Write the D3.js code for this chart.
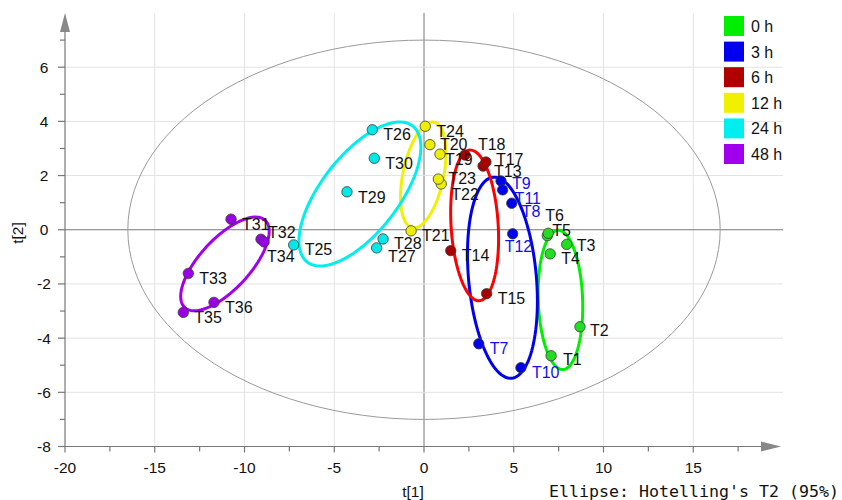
<!DOCTYPE html>
<html><head><meta charset="utf-8">
<script src="https://cdn.jsdelivr.net/npm/d3@7"></script>
<style>body{margin:0;background:#fff}svg{display:block}</style>
</head><body><svg id="c" width="842" height="500"></svg>
<script>
// ---- data ----
const groups = ["0 h","3 h","6 h","12 h","24 h","48 h"];
const sampleNames = ["T1","T2","T3","T4","T5","T6","T7","T8","T9","T10","T11","T12","T13","T14","T15","T17","T18","T19","T20","T21","T22","T23","T24","T25","T26","T27","T28","T29","T30","T31","T32","T33","T34","T35","T36"];
const sampleGroup = [0,0,0,0,0,0,1,1,1,1,1,1,2,2,2,2,2,3,3,3,3,3,3,4,4,4,4,4,4,5,5,5,5,5,5];
const t1 = [7.08,8.69,7.95,7.03,6.87,6.92,3.05,4.89,4.29,5.40,4.38,4.94,3.29,1.49,3.49,3.45,2.28,0.89,0.33,-0.72,0.96,0.80,0.07,-7.26,-2.88,-2.64,-2.28,-4.29,-2.77,-10.75,-9.08,-13.13,-8.91,-13.41,-11.70];
const t2 = [-4.65,-3.58,-0.54,-0.89,-0.22,-0.13,-4.21,0.98,1.80,-5.09,1.47,-0.15,2.35,-0.77,-2.36,2.50,2.76,2.79,3.14,-0.04,1.69,1.87,3.82,-0.56,3.69,-0.67,-0.34,1.40,2.64,0.39,-0.35,-1.61,-0.45,-3.05,-2.68];
// group confidence ellipses: centre and two semi-axis vectors (t1,t2 units)
const ellCx = [7.60,4.37,2.82,-0.04,-3.57,-11.09];
const ellCy = [-2.59,-1.77,0.16,2.02,1.32,-1.26];
const ellUx = [-0.135,-0.51,-0.256,0.61,2.94,2.24];
const ellUy = [2.57,3.71,2.78,1.95,2.51,1.61];
const ellVx = [-1.236,-1.88,-1.31,-1.11,-1.70,-1.03];
const ellVy = [-0.029,-0.113,-0.053,0.152,0.875,0.63];
// Hotelling T2 (95%) semi-axes
const hotellingA = 16.5, hotellingB = 7.0;
const xTicks = [-20,-15,-10,-5,0,5,10,15];
const yTicks = [-8,-6,-4,-2,0,2,4,6];
const xMinor = [-17.5,-12.5,-7.5,-2.5,2.5,7.5,12.5,17.5];
const yMinor = [-7,-5,-3,-1,1,3,5,7];

// ---- styles / layout ----
const pointColors = ["#22dd22","#0000f0","#a80000","#eeee00","#00e8e8","#9a00e6"];
const ellipseColors = ["#00ee00","#0000ee","#ff0000","#f0f000","#00eeee","#a000ee"];
const legendColors = ["#00ee00","#0000ee","#b00000","#f0f000","#00eeee","#a000ee"];
const labelNudge = {T1:[12,9.5],T2:[10,9.5],T3:[10,7],T5:[5,0],T6:[-3,-12],T8:[10,14],T9:[11,8],T11:[12,14],
  T12:[-8,18],T13:[11,11],T17:[10,2.5],T18:[13,-4.5],T19:[5,11],T20:[10,5.5],T22:[10,16.5],T23:[10,5],
  T27:[11.5,14.5],T29:[11,11],T32:[7,-1],T34:[3,20]};

const svg = d3.select("#c");
const x = d3.scaleLinear().domain([-20,20]).range([65,783]);
const y = d3.scaleLinear().domain([-8,8]).range([446.5,13]);
const font = "'Liberation Sans', Arial, Helvetica, sans-serif";

// grid
const g = svg.append("g");
g.selectAll(".vx").data(xTicks.slice(1)).join("line")
  .attr("x1",d=>x(d)).attr("x2",d=>x(d)).attr("y1",y(-8)).attr("y2",y(8))
  .attr("stroke",d=>d===0?"#777":"#e2e2e2").attr("stroke-width",1);
g.selectAll(".hy").data(yTicks.slice(1)).join("line")
  .attr("x1",x(-20)).attr("x2",x(20)).attr("y1",d=>y(d)).attr("y2",d=>y(d))
  .attr("stroke",d=>d===0?"#777":"#e2e2e2").attr("stroke-width",1);

// ellipse path builder
function ellPath(cx,cy,ux,uy,vx,vy){
  const pts = d3.range(0,361,3).map(a=>{const t=a*Math.PI/180;
    return [x(cx+Math.cos(t)*ux+Math.sin(t)*vx), y(cy+Math.cos(t)*uy+Math.sin(t)*vy)];});
  return d3.line()(pts)+"Z";
}
svg.append("path").attr("d",ellPath(0,0,hotellingA,0,0,hotellingB))
  .attr("fill","none").attr("stroke","#9a9a9a").attr("stroke-width",1);

svg.selectAll(".ge").data(groups).join("path")
  .attr("d",(d,i)=>ellPath(ellCx[i],ellCy[i],ellUx[i],ellUy[i],ellVx[i],ellVy[i]))
  .attr("fill","none").attr("stroke",(d,i)=>ellipseColors[i]).attr("stroke-width",3);

// points
svg.selectAll(".pt").data(sampleNames).join("circle")
  .attr("cx",(d,i)=>x(t1[i])).attr("cy",(d,i)=>y(t2[i])).attr("r",5.2)
  .attr("fill",(d,i)=>pointColors[sampleGroup[i]]).attr("stroke","#3a3a3a").attr("stroke-width",0.8);

// labels
svg.selectAll(".lb").data(sampleNames).join("text")
  .attr("x",(d,i)=>x(t1[i])+(labelNudge[d]?labelNudge[d][0]:11))
  .attr("y",(d,i)=>y(t2[i])+(labelNudge[d]?labelNudge[d][1]:10.5))
  .attr("font-family",font).attr("font-size",16)
  .attr("fill",(d,i)=>sampleGroup[i]===1?"#1010ee":"#111")
  .text(d=>d);

// axes
const ax = svg.append("g").attr("stroke","#777").attr("stroke-width",1.2);
ax.append("line").attr("x1",x(-20)).attr("x2",x(-20)).attr("y1",y(-8)).attr("y2",32);
ax.append("path").attr("d",`M${x(-20)-5},32L${x(-20)},13L${x(-20)+5},32Z`).attr("fill","#888").attr("stroke","none");
ax.append("line").attr("x1",x(-20)).attr("x2",762).attr("y1",y(-8)).attr("y2",y(-8));
ax.append("path").attr("d",`M761,${y(-8)-5}L781,${y(-8)}L761,${y(-8)+5}Z`).attr("fill","#888").attr("stroke","none");
ax.selectAll(".ytk").data(yTicks).join("line").attr("x1",x(-20)-7).attr("x2",x(-20)).attr("y1",d=>y(d)).attr("y2",d=>y(d));
ax.selectAll(".ymn").data(yMinor).join("line").attr("x1",x(-20)-5).attr("x2",x(-20)).attr("y1",d=>y(d)).attr("y2",d=>y(d));
ax.selectAll(".xtk").data(xTicks).join("line").attr("x1",d=>x(d)).attr("x2",d=>x(d)).attr("y1",y(-8)).attr("y2",y(-8)+6);
ax.selectAll(".xmn").data(xMinor).join("line").attr("x1",d=>x(d)).attr("x2",d=>x(d)).attr("y1",y(-8)).attr("y2",y(-8)+5);

svg.selectAll(".ytl").data(yTicks).join("text").attr("x",44).attr("y",d=>y(d)+5.5)
  .attr("text-anchor","middle").attr("font-family",font).attr("font-size",15.5).attr("fill","#111").text(d=>d);
svg.selectAll(".xtl").data(xTicks).join("text").attr("x",d=>x(d)).attr("y",472.5)
  .attr("text-anchor","middle").attr("font-family",font).attr("font-size",15.5).attr("fill","#111").text(d=>d);

svg.append("text").attr("x",413).attr("y",497).attr("text-anchor","middle")
  .attr("font-family",font).attr("font-size",15.5).attr("fill","#111").text("t[1]");
svg.append("text").attr("transform","translate(23,233) rotate(-90)").attr("text-anchor","middle")
  .attr("font-family",font).attr("font-size",15.5).attr("fill","#111").text("t[2]");
svg.append("text").attr("x",839).attr("y",497).attr("text-anchor","end")
  .attr("font-family","'DejaVu Sans Mono', monospace").attr("font-size",16).attr("fill","#111")
  .attr("textLength",290).attr("lengthAdjust","spacingAndGlyphs")
  .text("Ellipse: Hotelling's T2 (95%)");

// legend
const lg = svg.append("g");
lg.selectAll("rect").data(groups).join("rect")
  .attr("x",724).attr("y",(d,i)=>16+i*25.6).attr("width",20).attr("height",20)
  .attr("fill",(d,i)=>legendColors[i]);
lg.selectAll("text").data(groups).join("text")
  .attr("x",751).attr("y",(d,i)=>32+i*25.6)
  .attr("font-family",font).attr("font-size",16).attr("fill","#111").text(d=>d);
</script></body></html>
